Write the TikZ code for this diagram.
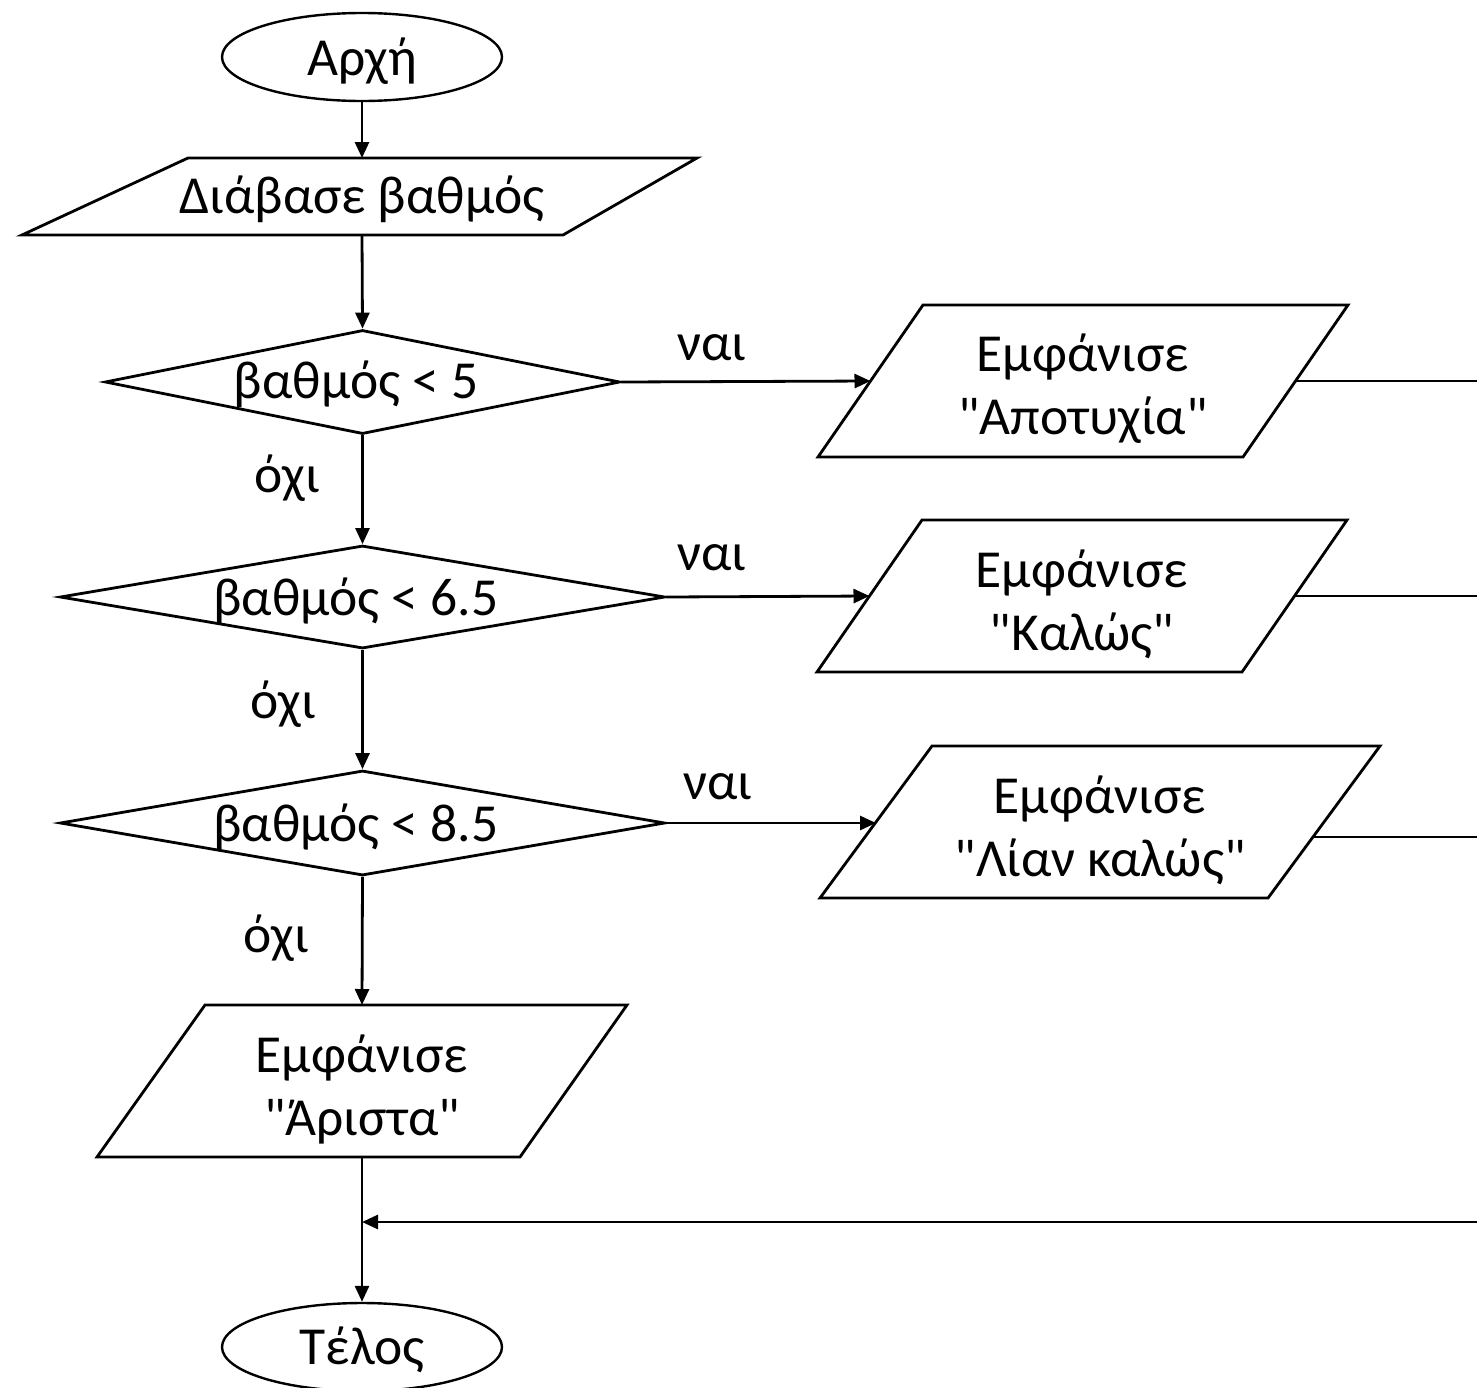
\documentclass[tikz,border=0pt]{standalone}
\usepackage{fontspec}
\setmainfont{Carlito}[Ligatures=TeXOff]
\usetikzlibrary{shapes.geometric,arrows.meta}
\begin{document}
\begin{tikzpicture}[x=1pt,y=-1pt,
  txt/.style={font=\fontsize{53.5}{63}\selectfont,inner sep=0pt,align=center},
  shp/.style={line width=2.8pt,line join=miter},
  line/.style={line width=2.8pt},
  arr/.style={line width=2.8pt,-{Triangle[length=16pt,width=14pt]}},
  term/.style={ellipse,draw,line width=2.4pt,minimum width=280pt,minimum height=88pt,inner sep=0pt},
  dec/.style={diamond,draw,line width=2.8pt,inner sep=0pt},
]
\clip (0,0) rectangle (1477,1387);
\fill[white] (0,0) rectangle (1477,1387);

% start / end
\node[term] (start) at (362,57) {};
\node[txt] (startt) at (362,61) {Αρχή};
\node[term] (end) at (362,1347) {};
\node[txt] (endt) at (362,1350) {Τέλος};

% input
\draw[shp] (22,235) -- (188,158) -- (697,158) -- (563,235) -- cycle;
\node[txt] (read) at (362,199) {Διάβασε βαθμός};
\coordinate (readT) at (362,158);
\coordinate (readB) at (362,235);

% decisions
\node[dec,minimum width=515pt,minimum height=104pt] (d1) at (362.5,382) {};
\node[txt] (d1t) at (356,384) {βαθμός < 5};
\node[dec,minimum width=605pt,minimum height=103pt] (d2) at (362.5,597) {};
\node[txt] (d2t) at (356,601) {βαθμός < 6.5};
\node[dec,minimum width=605pt,minimum height=105pt] (d3) at (362.5,823) {};
\node[txt] (d3t) at (356,827) {βαθμός < 8.5};

% outputs
\draw[shp] (818,457) -- (923,305) -- (1348,305) -- (1243,457) -- cycle;
\node[txt] (p1) at (1083,389) {Εμφάνισε\\"Αποτυχία"};
\coordinate (p1w) at (870.5,381);
\coordinate (p1e) at (1295.5,381);

\draw[shp] (817,672) -- (922,520) -- (1347,520) -- (1242,672) -- cycle;
\node[txt] (p2) at (1082,604) {Εμφάνισε\\"Καλώς"};
\coordinate (p2w) at (869.5,596);
\coordinate (p2e) at (1294.5,596);

\draw[shp] (820,898) -- (932,746) -- (1380,746) -- (1268,898) -- cycle;
\node[txt] (p3) at (1100,830) {Εμφάνισε\\"Λίαν καλώς"};
\coordinate (p3w) at (876,823);
\coordinate (p3e) at (1313,837);

\draw[shp] (97,1157) -- (205,1005) -- (627,1005) -- (520,1157) -- cycle;
\node[txt] (p4) at (362,1089) {Εμφάνισε\\"Άριστα"};
\coordinate (p4T) at (362,1005);
\coordinate (p4B) at (362,1157);

% right edge ends
\coordinate (r1) at (1480,381);
\coordinate (r2) at (1480,596);
\coordinate (r3) at (1480,837);
\coordinate (r4) at (1480,1222);
\coordinate (join) at (362,1222);

% labels
\node[txt] (y1) at (712,348) {ναι};
\node[txt] (y2) at (712,558) {ναι};
\node[txt] (y3) at (718,787) {ναι};
\node[txt] (n1) at (287,478) {όχι};
\node[txt] (n2) at (283,704) {όχι};
\node[txt] (n3) at (276,938) {όχι};

% connectors
\draw[arr] (start.south) -- (readT);
\draw[arr] (readB) -- (d1.north);
\draw[arr] (d1.south) -- (d2.north);
\draw[arr] (d2.south) -- (d3.north);
\draw[arr] (d3.south) -- (p4T);
\draw[arr] (p4B) -- (end.north);
\draw[arr] (d1.east) -- (p1w);
\draw[arr] (d2.east) -- (p2w);
\draw[arr] (d3.east) -- (p3w);
\draw[line] (p1e) -- (r1);
\draw[line] (p2e) -- (r2);
\draw[line] (p3e) -- (r3);
\draw[arr] (r4) -- (join);
\end{tikzpicture}
\end{document}
